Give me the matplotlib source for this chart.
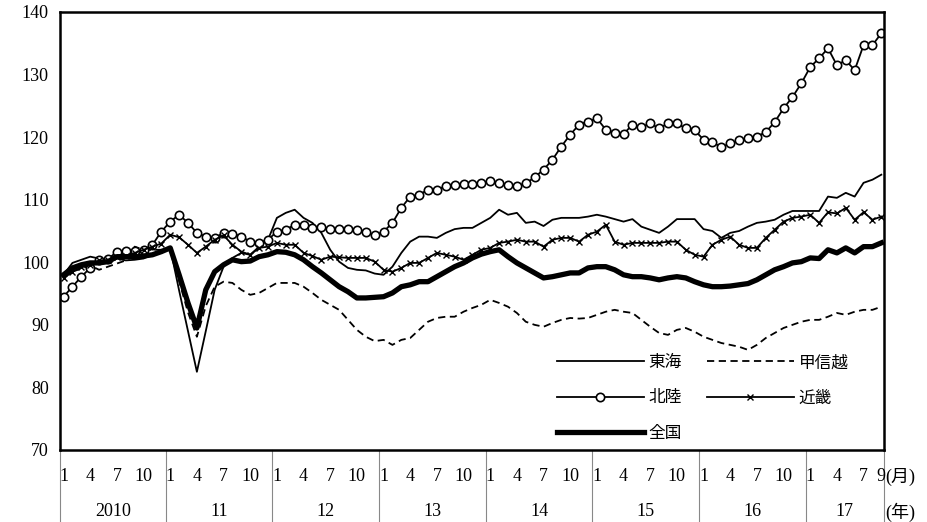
import matplotlib
matplotlib.use("Agg")
import matplotlib.pyplot as plt
import numpy as np

plt.rcParams['font.family'] = ['Liberation Serif', 'Noto Sans CJK JP']

tokai = [98.0,99.9,100.4,100.9,100.6,100.1,100.6,100.3,100.4,100.6,101.2,101.5,
         102.3,95.5,89.0,82.5,89.0,95.6,99.3,100.7,101.5,101.2,102.5,103.6,
         107.1,107.9,108.4,107.1,106.3,104.7,102.0,100.1,99.1,98.8,98.7,98.2,
         98.0,99.3,101.5,103.3,104.1,104.1,103.9,104.7,105.3,105.5,105.5,106.3,
         107.1,108.4,107.6,107.9,106.3,106.5,105.8,106.8,107.1,107.1,107.1,107.3,
         107.6,107.3,106.9,106.5,106.9,105.7,105.2,104.7,105.7,106.9,106.9,106.9,
         105.3,105.0,103.9,104.7,105.0,105.7,106.3,106.5,106.8,107.6,108.2,108.2,
         108.2,108.2,110.5,110.3,111.1,110.5,112.7,113.2,114.0]
koshinetsu = [97.5,98.5,99.0,99.5,98.8,99.3,99.8,100.3,102.5,102.0,102.0,102.0,
              102.3,97.0,92.0,88.1,93.0,96.1,96.9,96.7,95.6,94.8,95.1,95.9,
              96.7,96.7,96.7,96.1,95.1,94.0,93.2,92.4,90.8,89.2,88.1,87.4,
              87.6,86.8,87.6,87.9,89.2,90.5,91.1,91.3,91.3,92.1,92.7,93.2,
              94.0,93.5,92.9,91.9,90.5,90.0,89.7,90.3,90.8,91.1,91.0,91.1,
              91.6,92.1,92.4,92.1,91.9,90.8,89.7,88.7,88.4,89.2,89.5,88.9,
              88.1,87.6,87.1,86.8,86.5,86.0,86.8,87.9,88.7,89.5,90.0,90.5,
              90.8,90.8,91.3,91.9,91.6,92.1,92.4,92.4,92.9]
hokuriku = [94.5,96.1,97.7,99.1,100.4,100.5,101.7,101.8,101.8,102.0,102.8,104.9,
            106.5,107.6,106.3,104.7,104.1,103.9,104.7,104.6,104.1,103.3,103.1,103.6,
            104.9,105.2,106.0,106.0,105.5,105.7,105.3,105.3,105.3,105.2,104.9,104.3,
            104.9,106.3,108.7,110.5,110.8,111.6,111.6,112.2,112.4,112.5,112.5,112.7,
            113.0,112.6,112.4,112.2,112.6,113.6,114.8,116.4,118.5,120.4,122.0,122.5,
            123.0,121.2,120.7,120.5,122.0,121.6,122.2,121.4,122.2,122.2,121.4,121.1,
            119.6,119.2,118.4,119.0,119.5,119.8,120.1,120.8,122.4,124.6,126.4,128.6,
            131.2,132.6,134.2,131.5,132.3,130.7,134.7,134.7,136.6]
kinki = [97.5,98.5,99.2,99.5,100.3,100.3,100.8,101.0,101.5,102.0,102.5,103.0,
         104.4,104.0,102.8,101.5,102.5,103.6,104.3,102.8,101.7,101.2,102.3,102.5,
         103.1,102.8,102.8,101.5,101.0,100.4,100.9,100.8,100.7,100.7,100.7,100.1,
         98.8,98.5,99.1,99.9,99.9,100.7,101.5,101.2,100.9,100.4,101.2,102.0,
         102.3,103.1,103.3,103.6,103.3,103.3,102.5,103.6,103.9,103.9,103.3,104.4,
         104.9,106.0,103.3,102.8,103.1,103.1,103.1,103.1,103.3,103.3,102.0,101.2,
         100.9,102.8,103.6,104.1,102.8,102.3,102.3,103.9,105.2,106.5,107.1,107.3,
         107.6,106.3,108.0,107.8,108.7,106.8,108.0,106.8,107.3]
zenkoku = [98.0,99.1,99.6,99.9,99.9,100.1,100.9,100.9,100.9,101.0,101.2,101.7,
           102.3,98.0,93.5,89.5,95.6,98.5,99.6,100.4,100.1,100.2,100.9,101.2,
           101.7,101.6,101.2,100.4,99.3,98.3,97.2,96.1,95.3,94.3,94.3,94.4,
           94.5,95.1,96.1,96.4,96.9,96.9,97.7,98.5,99.3,99.9,100.7,101.3,
           101.7,102.0,100.9,99.9,99.1,98.3,97.5,97.7,98.0,98.3,98.3,99.1,
           99.3,99.3,98.8,98.0,97.7,97.7,97.5,97.2,97.5,97.7,97.5,96.9,
           96.4,96.1,96.1,96.2,96.4,96.6,97.2,98.0,98.8,99.3,99.9,100.1,
           100.7,100.6,102.0,101.5,102.3,101.5,102.5,102.5,103.1]

years = ["2010", "11", "12", "13", "14", "15", "16", "17"]
month_ticks = ["1", "4", "7", "10"]

x = np.arange(len(zenkoku))

fig = plt.figure(figsize=(9.28, 5.22), dpi=100)
ax = fig.add_axes([60/928, 72/522, 824/928, 438/522])

ax.plot(x, tokai, color='black', lw=1.3, label='東海')
ax.plot(x, koshinetsu, color='black', lw=1.3, ls=(0, (4, 2.5)), label='甲信越')
ax.plot(x, hokuriku, color='black', lw=1.3, marker='o', ms=6,
        mfc='white', mec='black', mew=1.2, label='北陸')
ax.plot(x, kinki, color='black', lw=1.3, marker='x', ms=4, mew=1.0, label='近畿')
ax.plot(x, zenkoku, color='black', lw=3.8, label='全国')

xl, xr = -0.4, 92.3
ax.set_xlim(xl, xr)
ax.set_ylim(70, 140)
ax.set_yticks(range(70, 141, 10))
ax.tick_params(axis='y', length=0, labelsize=13, pad=8)
ax.set_xticks([])
for s in ax.spines.values():
    s.set_linewidth(1.8)

trans = ax.get_xaxis_transform()
seps = [xl] + [11.5 + 12 * k for k in range(7)] + [xr]
for sx in seps:
    ax.plot([sx, sx], [0, -0.165], color='#888888', lw=0.8, transform=trans, clip_on=False)
for yi in range(8):
    for mi, m in enumerate(month_ticks):
        idx = yi * 12 + mi * 3
        if idx > 92 or (yi == 7 and mi == 3):
            continue
        ax.text(idx, -0.04, m, transform=trans, ha='center', va='top', fontsize=13)
ax.text(92, -0.04, "9", transform=trans, ha='center', va='top', fontsize=13)
ax.text(92.4, -0.04, "(月)", transform=trans, ha='left', va='top', fontsize=13)
ax.text(92.4, -0.12, "(年)", transform=trans, ha='left', va='top', fontsize=13)
for yi, yl in enumerate(years):
    ax.text((seps[yi] + seps[yi + 1]) / 2, -0.12, yl, transform=trans,
            ha='center', va='top', fontsize=13)

h, l = ax.get_legend_handles_labels()
order = [0, 2, 4, 1, 3]
ax.legend([h[i] for i in order], [l[i] for i in order], loc='lower right',
          bbox_to_anchor=(0.975, -0.015), ncol=2, frameon=False, fontsize=12,
          handlelength=5.2, columnspacing=1.5, labelspacing=1.15, handletextpad=0.3)

fig.savefig("out.png", dpi=100)
